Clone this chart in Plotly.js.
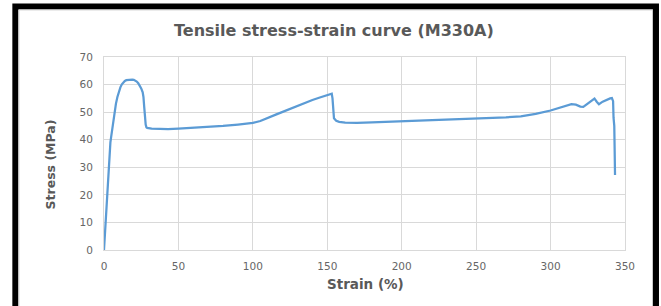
<!DOCTYPE html>
<html>
<head>
<meta charset="utf-8">
<script src="https://cdn.plot.ly/plotly-3.0.1.min.js"></script>
<style>html,body{margin:0;padding:0;background:#fff;}#chart{width:661px;height:306px;}</style>
</head>
<body>
<div id="chart"></div>
<script>
const strain = [0,0.5,1.1,1.5,2,2.5,2.9,3.3,3.8,4.3,4.8,5.5,6.2,7,8,9,10,11,12,13,14,15,16,17,18,19,20,21,22,23,24,25,26,26.5,27,27.5,28,28.5,29,32,37,43,50,60,70,80,90,100,105,110,115,120,125,130,135,140,145,150,152,153,153.5,154,154.5,156,158,162,170,180,200,220,240,250,260,270,280,290,300,305,310,314,317,320,322,325,328,329.5,331,332.5,335,338,340,341.2,342,342.3,342.5,342.8,343,343.3];
const stress = [0,5,10,14.5,20,25.5,30,33,36.5,39,41,44,47,50,53,55.5,57.5,59,60.1,60.8,61.3,61.6,61.7,61.8,61.8,61.8,61.7,61.5,61.1,60.5,59.7,58.6,57.2,55.5,52,48,45.5,44.5,44.3,44.0,43.9,43.8,44.0,44.3,44.6,45.0,45.5,46.1,46.8,47.8,49.0,50.1,51.2,52.3,53.4,54.4,55.3,56.1,56.5,56.7,55,49,47.8,46.9,46.5,46.2,46.1,46.3,46.7,47.0,47.4,47.6,47.8,48.1,48.5,49.4,50.6,51.4,52.2,52.9,52.7,52.0,51.9,53.0,54.4,54.9,53.8,52.9,53.8,54.6,55.0,55.1,54,48,46.5,45,38,27.2];
const xTicks = [0,50,100,150,200,250,300,350];
const yTicks = [0,10,20,30,40,50,60,70];
const chartTitle = 'Tensile stress-strain curve (M330A)';
const xTitle = 'Strain (%)';
const yTitle = 'Stress (MPa)';

const W = 661, H = 306;
const L = 103.7, R = 625, T = 56.7, B = 250;
const px = x => (x - L) / (R - L);
const py = y => (B - y) / (B - T);

const trace = {
  x: strain, y: stress, type: 'scatter', mode: 'lines',
  line: {color: '#5b9bd5', width: 2.25}, hoverinfo: 'skip'
};
const grid = '#d9d9d9';
const tickFont = {family: 'DejaVu Sans', size: 10.5, color: '#666666'};
const layout = {
  width: W, height: H,
  margin: {l: L, r: W - R, t: T, b: H - B, pad: 0},
  paper_bgcolor: '#ffffff', plot_bgcolor: '#ffffff',
  showlegend: false,
  xaxis: {range: [0, 350], tickvals: xTicks, ticktext: xTicks.map(String), showgrid: true, gridcolor: grid, gridwidth: 1,
          zeroline: false, showline: true, linecolor: grid, linewidth: 1, mirror: true, ticks: '', tickfont: tickFont, ticklabelstandoff: 6, fixedrange: true},
  yaxis: {range: [0, 70], tickvals: yTicks, ticktext: yTicks.map(String), showgrid: true, gridcolor: grid, gridwidth: 1,
          zeroline: false, showline: true, linecolor: grid, linewidth: 1, mirror: true, ticks: '', tickfont: tickFont, ticklabelstandoff: 8, fixedrange: true},
  annotations: [
    {text: chartTitle, xref: 'paper', yref: 'paper', x: px(334), y: py(30), xanchor: 'center', yanchor: 'middle', showarrow: false,
     font: {family: 'DejaVu Sans', size: 16, color: '#595959', weight: 'bold'}},
    {text: xTitle, xref: 'paper', yref: 'paper', x: px(365), y: py(284), xanchor: 'center', yanchor: 'middle', showarrow: false,
     font: {family: 'DejaVu Sans', size: 13.5, color: '#595959', weight: 'bold'}},
    {text: yTitle, xref: 'paper', yref: 'paper', x: px(50), y: py(164), xanchor: 'center', yanchor: 'middle', showarrow: false, textangle: -90,
     font: {family: 'DejaVu Sans', size: 12.5, color: '#595959', weight: 'bold'}}
  ],
  shapes: [
    {type: 'rect', xref: 'paper', yref: 'paper', x0: px(15), x1: px(656), y0: py(6), y1: py(320), line: {color: '#000000', width: 6}, layer: 'above'},
    {type: 'rect', xref: 'paper', yref: 'paper', x0: px(18.5), x1: px(652.5), y0: py(9.5), y1: py(320), line: {color: '#c8c8c8', width: 1}, layer: 'above'}
  ]
};
Plotly.newPlot('chart', [trace], layout, {staticPlot: true, displayModeBar: false});
</script>
</body>
</html>
